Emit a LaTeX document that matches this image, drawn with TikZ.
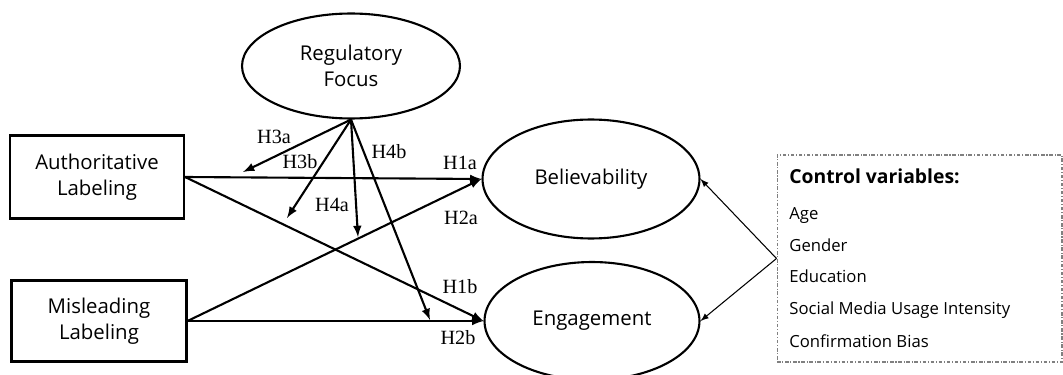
\documentclass[tikz,border=0pt]{standalone}
\usepackage{fontspec}
\setmainfont{Liberation Serif}
\setsansfont{Open Sans}
\usepackage{tikz}
\usetikzlibrary{arrows,shapes.geometric}

\tikzset{
  latent/.style={draw, ellipse, line width=1.2pt, align=center, inner sep=0pt,
    font=\sffamily\fontsize{11.6}{15}\selectfont},
  observed/.style={draw, rectangle, line width=1.2pt, align=center, inner sep=0pt,
    font=\sffamily\fontsize{11.6}{15}\selectfont},
  hpath/.style={->, >=latex, line width=1.2pt},
  hlabel/.style={font=\fontsize{11.5}{13}\selectfont},
  cpath/.style={->, >=latex, line width=0.6pt},
  cbox/.style={draw=gray, line width=0.6pt, dash pattern=on 2pt off 1pt on 0.6pt off 1pt,
    minimum width=5.7cm, minimum height=4.14cm},
  citem/.style={anchor=base west, inner sep=0pt, font=\sffamily\fontsize{9.5}{11}\selectfont},
}

\begin{document}
\begin{tikzpicture}[x=0.02cm, y=-0.02cm]
\useasboundingbox (0,0) rectangle (1063,375);
% конструкты
\node [latent, minimum width=4.36cm, minimum height=2.1cm] (reg) at (351,66) {Regulatory\\Focus};
\node [observed, minimum width=3.48cm, minimum height=1.66cm] (auth) at (97,177) {Authoritative\\Labeling};
\node [observed, minimum width=3.5cm, minimum height=1.62cm] (mis) at (99,321) {Misleading\\Labeling};
\node [latent, minimum width=4.34cm, minimum height=2.38cm] (bel) at (591,179) {Believability};
\node [latent, minimum width=4.3cm, minimum height=2.36cm] (eng) at (592,321) {Engagement};
% прямые связи
\draw [hpath] (auth.east) -- (bel.west);
\draw [hpath] (auth.east) -- (eng.west);
\draw [hpath] (mis.east) -- (bel.west);
\draw [hpath] (mis.east) -- (eng.west);
% модерация
\coordinate (m3a) at (243,172);
\coordinate (m3b) at (287,218);
\coordinate (m4a) at (358,237);
\coordinate (m4b) at (430,320);
\draw [hpath] (reg.south) -- (m3a);
\draw [hpath] (reg.south) -- (m3b);
\draw [hpath] (reg.south) -- (m4a);
\draw [hpath] (reg.south) -- (m4b);
% подписи
\node [hlabel] (l3a) at (274,137) {H3a};
\node [hlabel] (l3b) at (300,162) {H3b};
\node [hlabel] (l4b) at (389,152) {H4b};
\node [hlabel] (l4a) at (332,205) {H4a};
\node [hlabel] (l1a) at (460,163) {H1a};
\node [hlabel] (l2a) at (461,218) {H2a};
\node [hlabel] (l1b) at (460,287) {H1b};
\node [hlabel] (l2b) at (458,338) {H2b};
% контрольные переменные
\node [cbox] (ctrl) at (919.5,258.5) {};
\draw [cpath] (ctrl.west) -- (bel.east);
\draw [cpath] (ctrl.west) -- (eng.east);
\node [citem, font=\sffamily\bfseries\fontsize{11}{13}\selectfont] (ctitle) at (789,184) {Control variables:};
\node [citem] (cage) at (789,220) {Age};
\node [citem] (cgen) at (789,252) {Gender};
\node [citem] (cedu) at (789,283) {Education};
\node [citem] (csmu) at (789,315) {Social Media Usage Intensity};
\node [citem] (ccb) at (789,347) {Confirmation Bias};
\end{tikzpicture}
\end{document}
